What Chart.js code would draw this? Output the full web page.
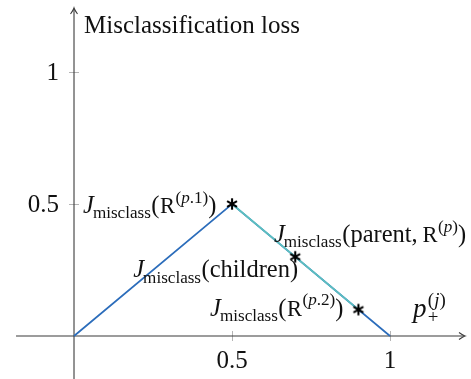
<!DOCTYPE html>
<html>
<head>
<meta charset="utf-8">
<script src="https://cdn.jsdelivr.net/npm/chart.js@4/dist/chart.umd.min.js"></script>
<style>
  html, body { margin: 0; padding: 0; background: #fff; }
  #c { display: block; }
</style>
</head>
<body>
<canvas id="c" width="471" height="379"></canvas>
<script>
// Misclassification loss J(p) = min(p, 1 - p) for a binary node
const lossX = [0, 0.5, 1];
const lossY = [0, 0.5, 0];

// Chord between the two children of the split
const chordX = [0.5, 0.9];
const chordY = [0.5, 0.1];

// Marked nodes: child 1, parent, child 2
const nodeX = [0.5, 0.7, 0.9];
const nodeY = [0.5, 0.3, 0.1];

// Axis ticks
const xTicks = [0.5, 1];
const xTickLabels = ['0.5', '1'];
const yTicks = [0.5, 1];
const yTickLabels = ['0.5', '1'];

const BLUE = '#2c6dbb';
const TEAL = '#5cc0c0';
const INK = '#111';
const SERIF = '"Liberation Serif", serif';

const pts = (xs, ys) => xs.map((x, i) => ({ x, y: ys[i] }));

// Asterisk marker (six arms)
function makeAsterisk() {
  const c = document.createElement('canvas');
  c.width = 14; c.height = 14;
  const g = c.getContext('2d');
  g.strokeStyle = '#000';
  g.lineWidth = 2.1;
  const r = 5.7;
  for (let k = 0; k < 3; k++) {
    const a = Math.PI / 2 + k * Math.PI / 3;
    g.beginPath();
    g.moveTo(7 - r * Math.cos(a), 7 - r * Math.sin(a));
    g.lineTo(7 + r * Math.cos(a), 7 + r * Math.sin(a));
    g.stroke();
  }
  return c;
}

// --- small math-text renderer -------------------------------------------
function partFont(p, E) {
  const s = (p.sub || p.sup) ? E * 0.7 : (p.f === 'tt' ? E * 0.92 : E);
  return (p.f === 'it' ? 'italic ' : '') + s.toFixed(1) + 'px ' + SERIF;
}
function partsWidth(ctx, parts, E) {
  let w = 0;
  for (const p of parts) {
    ctx.font = partFont(p, E);
    if (p.keep) continue;
    w += ctx.measureText(p.t).width + (p.kern || 0) * E;
  }
  return w;
}
function drawParts(ctx, parts, x, y, E, align) {
  const w = partsWidth(ctx, parts, E);
  let cx = align === 'right' ? x - w : (align === 'center' ? x - w / 2 : x);
  ctx.fillStyle = INK;
  ctx.textBaseline = 'alphabetic';
  ctx.textAlign = 'left';
  for (const p of parts) {
    ctx.font = partFont(p, E);
    const dy = p.sub ? 0.22 * E : (p.sup ? -0.42 * E : 0);
    ctx.fillText(p.t, cx + (p.kern || 0) * E, y + dy);
    if (!p.keep) cx += ctx.measureText(p.t).width + (p.kern || 0) * E;
  }
}

const Jsub = [{ t: 'J', f: 'it' }, { t: 'misclass', f: 'rm', sub: true, kern: -0.04 }];
const labels = [
  { // J(R^(p.1))
    parts: [...Jsub, { t: '(', f: 'rm', kern: 0.02 }, { t: 'R', f: 'tt', kern: 0.02 },
      { t: '(', f: 'rm', sup: true, kern: 0.02 }, { t: 'p', f: 'it', sup: true }, { t: '.1)', f: 'rm', sup: true },
      { t: ')', f: 'rm' }],
    at: [0, 0.5], dx: 9, dy: 9, align: 'left', size: 24.5
  },
  { // J(children)
    parts: [...Jsub, { t: '(children)', f: 'rm', kern: 0.02 }],
    at: [0.2, 0.2], dx: -4, dy: -6, align: 'left', size: 24.5
  },
  { // J(parent, R^(p))
    parts: [...Jsub, { t: '(parent,', f: 'rm', kern: 0.02 }, { t: 'R', f: 'tt', kern: 0.2 },
      { t: '(', f: 'rm', sup: true, kern: 0.02 }, { t: 'p', f: 'it', sup: true }, { t: ')', f: 'rm', sup: true },
      { t: ')', f: 'rm' }],
    at: [0.7, 0.3], dx: 171, dy: -15, align: 'right', size: 24.5
  },
  { // J(R^(p.2))
    parts: [...Jsub, { t: '(', f: 'rm', kern: 0.02 }, { t: 'R', f: 'tt', kern: 0.02 },
      { t: '(', f: 'rm', sup: true, kern: 0.02 }, { t: 'p', f: 'it', sup: true }, { t: '.2)', f: 'rm', sup: true },
      { t: ')', f: 'rm' }],
    at: [0.9, 0.1], dx: -15, dy: 6, align: 'right', size: 24.5
  },
  { // p_+^(j)
    parts: [{ t: 'p', f: 'it' }, { t: '+', f: 'rm', sub: true, keep: true, kern: 0.05 },
      { t: '(', f: 'rm', sup: true, kern: 0.05 }, { t: 'j', f: 'it', sup: true }, { t: ')', f: 'rm', sup: true }],
    at: [1, 0], dx: 23, dy: -19, align: 'left', size: 27
  }
];

// --- axes, ticks and annotations -----------------------------------------
const axesPlugin = {
  id: 'mathAxes',
  beforeDatasetsDraw(chart) {
    const { ctx, scales: { x, y } } = chart;
    const x0 = x.getPixelForValue(0), y0 = y.getPixelForValue(0);
    ctx.save();
    // tick marks
    ctx.strokeStyle = '#b4b4b4';
    ctx.lineWidth = 1;
    xTicks.forEach(v => {
      const px = Math.round(x.getPixelForValue(v)) + 0.5;
      ctx.beginPath(); ctx.moveTo(px, y0 - 5); ctx.lineTo(px, y0 + 5); ctx.stroke();
    });
    yTicks.forEach(v => {
      const py = Math.round(y.getPixelForValue(v)) + 0.5;
      ctx.beginPath(); ctx.moveTo(x0 - 5, py); ctx.lineTo(x0 + 5, py); ctx.stroke();
    });
    // axis lines
    ctx.strokeStyle = '#3a3a3a';
    ctx.lineWidth = 1.1;
    const xl = x.getPixelForValue(-0.1835), xr = x.getPixelForValue(1.2373);
    const yb = y.getPixelForValue(-0.1629), yt = y.getPixelForValue(1.2424);
    ctx.beginPath(); ctx.moveTo(xl, y0); ctx.lineTo(xr - 1, y0); ctx.stroke();
    ctx.beginPath(); ctx.moveTo(x0, yb); ctx.lineTo(x0, yt + 1); ctx.stroke();
    // arrow heads
    ctx.beginPath();
    ctx.moveTo(xr - 6, y0 - 3.5); ctx.quadraticCurveTo(xr - 2, y0 - 0.6, xr, y0);
    ctx.quadraticCurveTo(xr - 2, y0 + 0.6, xr - 6, y0 + 3.5);
    ctx.stroke();
    ctx.beginPath();
    ctx.moveTo(x0 - 3.5, yt + 6); ctx.quadraticCurveTo(x0 - 0.6, yt + 2, x0, yt);
    ctx.quadraticCurveTo(x0 + 0.6, yt + 2, x0 + 3.5, yt + 6);
    ctx.stroke();

    // tick labels
    ctx.fillStyle = INK;
    ctx.font = '25px ' + SERIF;
    ctx.textAlign = 'center';
    ctx.textBaseline = 'alphabetic';
    xTicks.forEach((v, i) => ctx.fillText(xTickLabels[i], x.getPixelForValue(v), y0 + 32));
    ctx.textAlign = 'right';
    yTicks.forEach((v, i) => ctx.fillText(yTickLabels[i], x0 - 15, y.getPixelForValue(v) + 8));

    // axis title
    ctx.textAlign = 'left';
    ctx.font = '25px ' + SERIF;
    ctx.fillText('Misclassification loss', x0 + 10, 33);
    ctx.restore();
  },
  afterDatasetsDraw(chart) {
    const { ctx, scales: { x, y } } = chart;
    ctx.save();
    labels.forEach(l => {
      const px = x.getPixelForValue(l.at[0]) + l.dx;
      const py = y.getPixelForValue(l.at[1]) + l.dy;
      drawParts(ctx, l.parts, px, py, l.size, l.align);
    });
    ctx.restore();
  }
};

function build() {
  new Chart(document.getElementById('c'), {
    type: 'scatter',
    data: {
      datasets: [
        { data: pts(nodeX, nodeY), showLine: false, pointStyle: makeAsterisk(),
          pointRadius: 7, order: 0 },
        { data: pts(chordX, chordY), showLine: true, borderColor: TEAL, borderWidth: 1.7,
          pointRadius: 0, order: 1 },
        { data: pts(lossX, lossY), showLine: true, borderColor: BLUE, borderWidth: 1.7,
          pointRadius: 0, order: 2 }
      ]
    },
    options: {
      responsive: false,
      animation: false,
      devicePixelRatio: 1,
      layout: { padding: 0, autoPadding: false },
      events: [],
      scales: {
        x: { type: 'linear', min: -0.2342, max: 1.2563, display: false },
        y: { type: 'linear', min: -0.1629, max: 1.2727, display: false }
      },
      plugins: { legend: { display: false }, tooltip: { enabled: false } }
    },
    plugins: [axesPlugin]
  });
}

Promise.all([
  document.fonts.load('24px "Liberation Serif"'),
  document.fonts.load('italic 24px "Liberation Serif"')
]).catch(() => {}).then(build);
</script>
</body>
</html>
